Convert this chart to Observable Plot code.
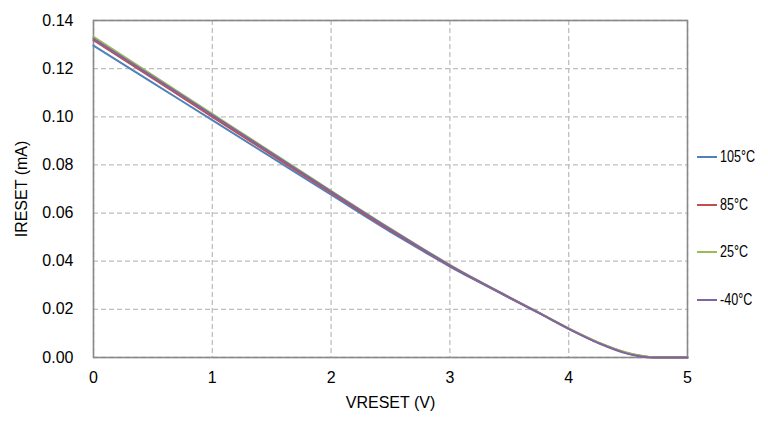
<!DOCTYPE html>
<html>
<head>
<meta charset="utf-8">
<script src="https://cdn.jsdelivr.net/npm/d3@7"></script>
<script src="https://cdn.jsdelivr.net/npm/@observablehq/plot@0.6"></script>
<style>
  html, body { margin: 0; padding: 0; background: #fff; }
  #wrap { position: relative; width: 768px; height: 434px; }
  #legend { position: absolute; left: 697px; top: 133px; font-family: "Liberation Sans", Arial, sans-serif; font-size: 17px; color: #000; }
  .item { display: flex; align-items: center; height: 47.8px; }
  .swatch { width: 20px; height: 2px; margin-right: 3px; }
  .txt { display: inline-block; transform: scaleX(0.74); transform-origin: left center; }
</style>
</head>
<body>
<div id="wrap"><div id="legend"></div></div>
<script>
const voltage = [0, 0.5, 1, 1.5, 2, 2.5, 2.75, 3, 3.25, 3.5, 3.75, 4, 4.25, 4.5, 4.6, 4.7, 4.8, 5];
const i105 = [0.1296, 0.1141, 0.0986, 0.0831, 0.0676, 0.0522, 0.0449, 0.0378, 0.0312, 0.0248, 0.0184, 0.0119, 0.0061, 0.0017, 0.0006, 0.0001, 0, 0];
const i85  = [0.1318, 0.1159, 0.1000, 0.0842, 0.0684, 0.0528, 0.0454, 0.0381, 0.0314, 0.0249, 0.0185, 0.0120, 0.0062, 0.0018, 0.0007, 0.0001, 0, 0];
const i25  = [0.1333, 0.1172, 0.1012, 0.0852, 0.0692, 0.0535, 0.0459, 0.0385, 0.0316, 0.0251, 0.0186, 0.0121, 0.0063, 0.0019, 0.0008, 0.0001, 0, 0];
const iM40 = [0.1325, 0.1166, 0.1007, 0.0848, 0.0689, 0.0532, 0.0457, 0.0383, 0.0315, 0.0250, 0.0185, 0.0119, 0.0060, 0.0015, 0.0005, 0, 0, 0];
const seriesNames = ["105°C", "85°C", "25°C", "-40°C"];
const seriesValues = [i105, i85, i25, iM40];
const seriesColors = ["#4F81BD", "#C0504D", "#9BBB59", "#8064A2"];
const xTicks = [0, 1, 2, 3, 4, 5];
const yTicks = [0, 0.02, 0.04, 0.06, 0.08, 0.10, 0.12, 0.14];

const rows = seriesNames.flatMap((s, k) => voltage.map((v, j) => ({v, cur: seriesValues[k][j], s})));

const chart = Plot.plot({
  width: 768,
  height: 434,
  marginLeft: 93,
  marginRight: 81,
  marginTop: 20,
  marginBottom: 77,
  style: {fontFamily: "'Liberation Sans', Arial, sans-serif", fontSize: "16px", color: "#000", background: "#fff"},
  x: {domain: [0, 5]},
  y: {domain: [0, 0.14]},
  color: {domain: seriesNames, range: seriesColors},
  marks: [
    Plot.gridX(xTicks, {stroke: "#bfbfbf", strokeOpacity: 1, strokeWidth: 1.3, strokeDasharray: "5,3"}),
    Plot.gridY(yTicks, {stroke: "#bfbfbf", strokeOpacity: 1, strokeWidth: 1.3, strokeDasharray: "5,3"}),
    Plot.frame({stroke: "#898989", strokeWidth: 1.6}),
    Plot.line(rows, {x: "v", y: "cur", z: "s", stroke: "s", strokeWidth: 2, curve: "monotone-x"}),
    Plot.axisX(xTicks, {tickSize: 0, tickPadding: 14, tickFormat: d3.format("d"), label: "VRESET (V)", labelAnchor: "center", labelArrow: "none", labelOffset: 50}),
    Plot.axisY(yTicks, {tickSize: 0, tickPadding: 20, tickFormat: d3.format(".2f"), label: "IRESET (mA)", labelAnchor: "center", labelArrow: "none", labelOffset: 78})
  ]
});
document.getElementById("wrap").prepend(chart);

const legend = document.getElementById("legend");
seriesNames.forEach((s, k) => {
  const item = document.createElement("div");
  item.className = "item";
  const sw = document.createElement("span");
  sw.className = "swatch";
  sw.style.background = seriesColors[k];
  const t = document.createElement("span");
  t.className = "txt";
  t.textContent = s;
  item.appendChild(sw);
  item.appendChild(t);
  legend.appendChild(item);
});
</script>
</body>
</html>
